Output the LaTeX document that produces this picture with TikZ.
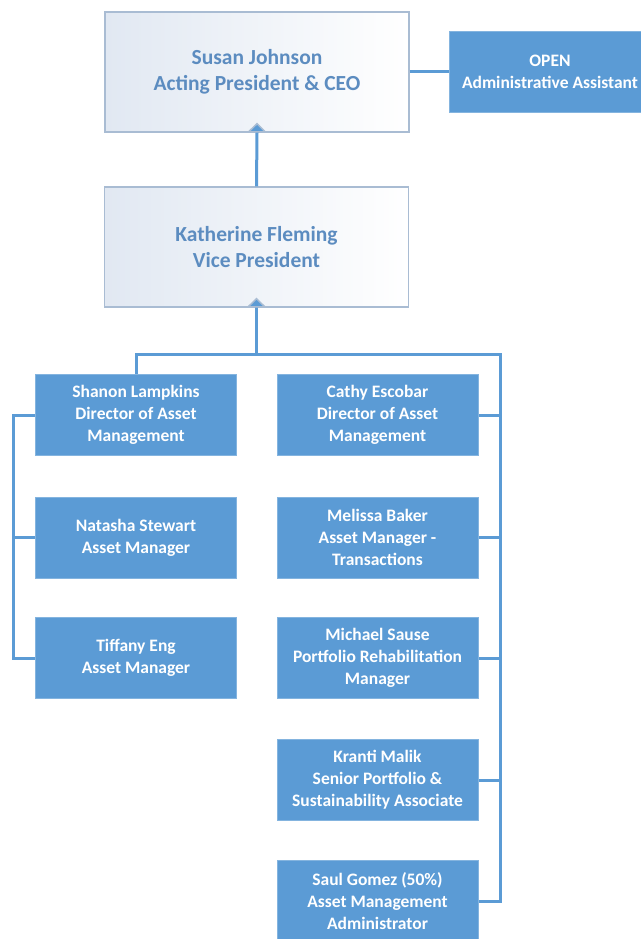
\documentclass[tikz,border=0pt]{standalone}
\usepackage{fontspec}
\setmainfont{Carlito}
\usetikzlibrary{arrows.meta,positioning}
\definecolor{orgblue}{HTML}{5B9BD5}
\definecolor{orgedge}{HTML}{A9BCD3}
\definecolor{orgtext}{HTML}{5C8CC0}
\definecolor{orgshade}{HTML}{E1E8F2}

\begin{document}
\begin{tikzpicture}[x=1pt,y=-1pt,
  head/.style={draw=orgedge, line width=1.2pt, left color=orgshade, right color=white,
    minimum width=304pt, minimum height=120pt, text=orgtext, align=center,
    font=\fontsize{21.5}{26}\selectfont\bfseries},
  staff/.style={draw=orgblue!75!white, line width=1pt, fill=orgblue,
    minimum width=201pt, minimum height=81pt, text=white, align=center,
    font=\fontsize{17.5}{22}\selectfont\bfseries},
  link/.style={draw=orgblue, line width=3pt},
  up/.style={link, shorten >=-10pt,
    -{Triangle[width=20pt,length=10pt,fill=orgblue,color=orgedge,line width=1.5pt]}}]

\useasboundingbox (0,0) rectangle (640,939);

% 経営陣
\node[head] (ceo) at (257,72) {Susan Johnson\\Acting President \& CEO};
\node[staff] (asst) at (550,72) {OPEN\\Administrative Assistant};
\node[head] (vp) at (256.5,247) {Katherine Fleming\\Vice President};

% 左の列
\node[staff] (shanon) at (136,415) {Shanon Lampkins\\Director of Asset\\Management};
\node[staff] (natasha) at (136,537.5) {Natasha Stewart\\Asset Manager};
\node[staff] (tiffany) at (136,658) {Tiffany Eng\\Asset Manager};

% 右の列
\node[staff] (cathy) at (377.5,415) {Cathy Escobar\\Director of Asset\\Management};
\node[staff] (melissa) at (377.5,537.5) {Melissa Baker\\Asset Manager -\\Transactions};
\node[staff] (michael) at (377.5,658) {Michael Sause\\Portfolio Rehabilitation\\Manager};
\node[staff] (kranti) at (377.5,780) {Kranti Malik\\Senior Portfolio \&\\Sustainability Associate};
\node[staff] (saul) at (377.5,901) {Saul Gomez (50\%)\\Asset Management\\Administrator};

% 線
\coordinate (bus) at (256.5,354);
\coordinate (rrail) at (500,354);
\coordinate (lrail) at (13,415);
\draw[link] (ceo.east) -- (asst.west);
\draw[up] (vp.north) -- (ceo.south);
\draw[up] (bus) -- (vp.south);
\draw[link] (shanon.north) |- (rrail) |- (saul.east);
\foreach \n in {cathy,melissa,michael,kranti}
  \draw[link] (rrail) |- (\n.east);
\draw[link] (shanon.west) -| (lrail) |- (tiffany.west);
\draw[link] (lrail) |- (natasha.west);
\end{tikzpicture}
\end{document}
